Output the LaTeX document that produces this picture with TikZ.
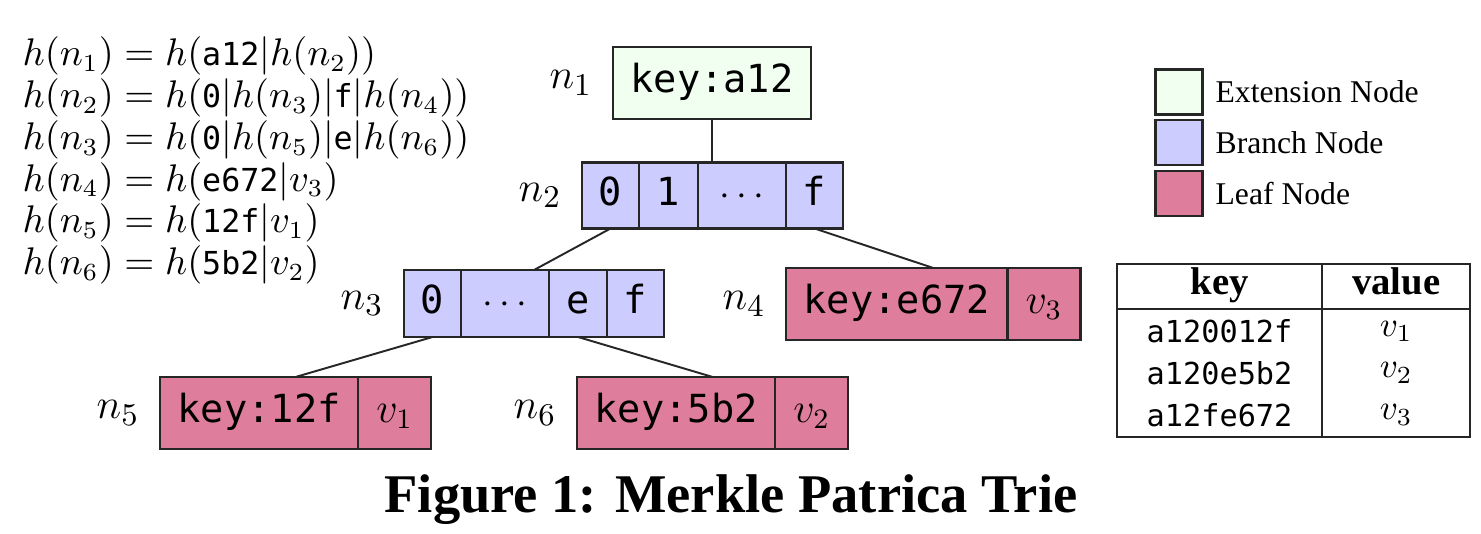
\documentclass[tikz,border=0pt]{standalone}
\usepackage{fontspec}
\setmainfont{Liberation Serif}
\setmonofont{DejaVu Sans Mono}
\usetikzlibrary{positioning,fit}
\definecolor{extfill}{HTML}{F0FFF0}
\definecolor{branchfill}{HTML}{CCCCFF}
\definecolor{leaffill}{HTML}{DE7E9C}
\definecolor{rulegray}{HTML}{262626}
\newcommand{\hexs}[1]{\mbox{\small\ttfamily #1}}
\newcommand{\keyfont}{\ttfamily\fontsize{11}{13}\selectfont}

\begin{document}
\begin{tikzpicture}[x=0.01cm,y=-0.01cm,
  cell/.style={draw=rulegray,line width=0.6pt,outer sep=0pt,text height=0.75em,text depth=0.2em,font=\keyfont},
  ext/.style={cell,fill=extfill,minimum height=0.72cm,inner xsep=5pt},
  digit/.style={cell,fill=branchfill,minimum height=0.66cm,minimum width=0.57cm,inner xsep=0pt},
  dots/.style={digit,minimum width=0.88cm},
  leafkey/.style={cell,fill=leaffill,minimum height=0.72cm,inner xsep=5pt},
  leafval/.style={cell,fill=leaffill,minimum height=0.72cm,minimum width=0.73cm,inner xsep=0pt,font=\fontsize{12}{14}\selectfont},
  lbl/.style={inner sep=0pt,font=\fontsize{13}{15}\selectfont},
  edge/.style={line width=0.55pt,draw=rulegray},
  legbox/.style={draw=rulegray,line width=0.8pt,minimum width=0.47cm,minimum height=0.45cm,inner sep=0pt},
  legtext/.style={inner sep=0pt,font=\fontsize{9}{11}\selectfont},
  thead/.style={draw=rulegray,line width=0.6pt,outer sep=0pt,inner sep=0pt,minimum height=0.45cm,text height=0.7em,text depth=0.25em,font=\bfseries\fontsize{11}{13}\selectfont},
  tbody/.style={draw=rulegray,line width=0.6pt,outer sep=0pt,inner ysep=0pt,minimum height=1.28cm,align=center}
]
\useasboundingbox (0,0) rectangle (1481,534);

\node[anchor=north west,inner sep=0pt,align=left,font=\fontsize{10.7}{11.9}\selectfont] (eqs) at (22,36)
  {$h(n_1) = h(\hexs{a12}|h(n_2))$\\
   $h(n_2) = h(\hexs{0}|h(n_3)|\hexs{f}|h(n_4))$\\
   $h(n_3) = h(\hexs{0}|h(n_5)|\hexs{e}|h(n_6))$\\
   $h(n_4) = h(\hexs{e672}|v_3)$\\
   $h(n_5) = h(\hexs{12f}|v_1)$\\
   $h(n_6) = h(\hexs{5b2}|v_2)$};

\node[ext] (n1) at (712,83) {key:a12};
\node[lbl,left=0.2cm of n1] (n1lbl) {$n_1$};

\node[digit,anchor=west] (n2z) at (582,195.5) {0};
\node[digit,minimum width=0.59cm,right=0pt of n2z] (n2one) {1};
\node[dots,right=0pt of n2one] (n2dots) {$\cdots$};
\node[digit,right=0pt of n2dots] (n2f) {f};
\node[lbl,left=0.2cm of n2z] (n2lbl) {$n_2$};

\node[digit,anchor=west,minimum height=0.67cm] (n3z) at (404,303.5) {0};
\node[dots,minimum height=0.67cm,right=0pt of n3z] (n3dots) {$\cdots$};
\node[digit,minimum height=0.67cm,minimum width=0.58cm,right=0pt of n3dots] (n3e) {e};
\node[digit,minimum height=0.67cm,right=0pt of n3e] (n3f) {f};
\node[fit=(n3z)(n3f),inner sep=0pt,outer sep=0pt] (n3) {};
\node[lbl,left=0.2cm of n3z] (n3lbl) {$n_3$};

\node[leafkey,anchor=west] (n4key) at (786,304) {key:e672};
\node[leafval,right=0pt of n4key] (n4val) {$v_3$};
\node[fit=(n4key)(n4val),inner sep=0pt,outer sep=0pt] (n4) {};
\node[lbl,left=0.2cm of n4key] (n4lbl) {$n_4$};

\node[leafkey,anchor=west] (n5key) at (160,413) {key:12f};
\node[leafval,right=0pt of n5key] (n5val) {$v_1$};
\node[fit=(n5key)(n5val),inner sep=0pt,outer sep=0pt] (n5) {};
\node[lbl,left=0.2cm of n5key] (n5lbl) {$n_5$};

\node[leafkey,anchor=west] (n6key) at (577,413) {key:5b2};
\node[leafval,right=0pt of n6key] (n6val) {$v_2$};
\node[fit=(n6key)(n6val),inner sep=0pt,outer sep=0pt] (n6) {};
\node[lbl,left=0.2cm of n6key] (n6lbl) {$n_6$};

\draw[edge] (n1.south) -- (n1.south |- n2dots.north);
\draw[edge] (n2z.south) -- (n3.north);
\draw[edge] (n2f.south) -- (n4.north);
\draw[edge] (n3z.south) -- (n5.north);
\draw[edge] (n3e.south) -- (n6.north);

\node[legbox,fill=extfill] (legext) at (1179,92) {};
\node[legbox,fill=branchfill] (legbranch) at (1179,142.5) {};
\node[legbox,fill=leaffill] (legleaf) at (1179,193.5) {};
\node[legtext,right=0.11cm of legext] (legexttxt) {Extension Node};
\node[legtext,right=0.11cm of legbranch] (legbranchtxt) {Branch Node};
\node[legtext,right=0.11cm of legleaf] (legleaftxt) {Leaf Node};

\node[thead,minimum width=2.05cm,anchor=north west] (keyhead) at (1117,264) {key};
\node[thead,minimum width=1.48cm,right=0pt of keyhead] (valhead) {value};
\node[tbody,minimum width=2.05cm,below=0pt of keyhead,font=\ttfamily\fontsize{8.6}{11.9}\selectfont] (keycol) {a120012f\\a120e5b2\\a12fe672};
\node[tbody,minimum width=1.48cm,below=0pt of valhead,font=\fontsize{10}{11.9}\selectfont] (valcol) {$v_1$\\$v_2$\\$v_3$};

\node[anchor=base,font=\bfseries\fontsize{15.5}{18}\selectfont] (caption) at (731,513) {Figure 1: Merkle Patrica Trie};
\end{tikzpicture}
\end{document}
